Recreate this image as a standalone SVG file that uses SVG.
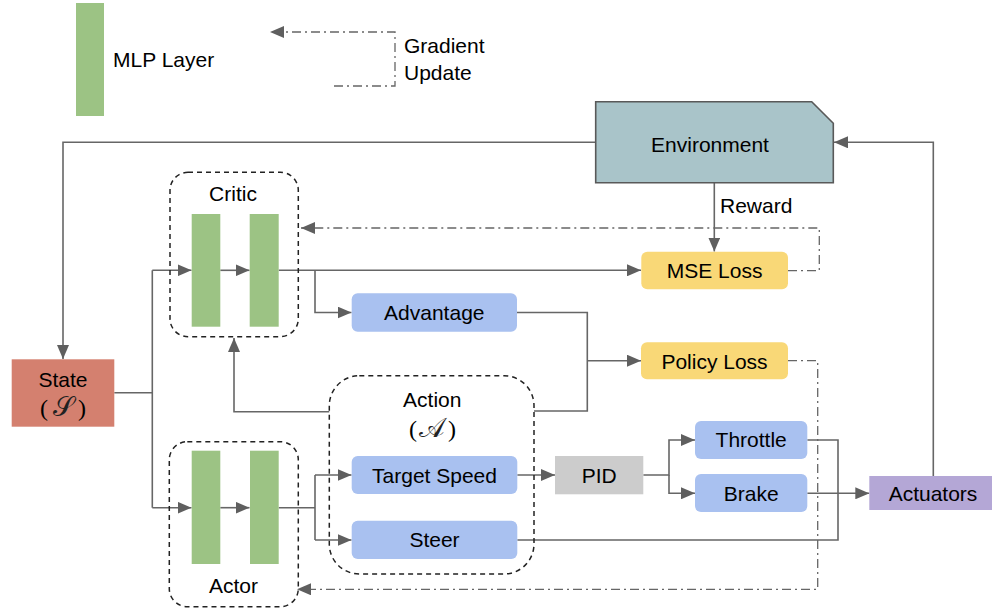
<svg xmlns="http://www.w3.org/2000/svg" width="992" height="610" viewBox="0 0 992 610">
<style>
text{font-family:"Liberation Sans",Arial,sans-serif;font-size:21px;fill:#000}
.c{text-anchor:middle}
.mlp{fill:#9cc384}
.blue{fill:#a9c1f0}
.yel{fill:#f9d877}
.ln{fill:none;stroke:#666;stroke-width:1.6}
.dd{fill:none;stroke:#666;stroke-width:1.3;stroke-dasharray:9,4,2,4}
.grp{fill:none;stroke:#222;stroke-width:1.5;stroke-dasharray:5,4}
.par{font-family:"Liberation Serif","DejaVu Serif",serif;font-size:24px}
.math{font-family:"DejaVu Sans","DejaVu Serif",sans-serif;font-size:27px;font-weight:200;fill:#222}
</style>
<defs>
<marker id="ah" markerUnits="userSpaceOnUse" markerWidth="14" markerHeight="12" viewBox="0 0 14 12" refX="14" refY="6" orient="auto">
<path d="M0,0 L14,6 L0,12 z" fill="#5f5f5f"/>
</marker>
</defs>

<g id="legend">
<rect class="mlp" x="76" y="3" width="28" height="113"/>
<text x="113" y="67">MLP Layer</text>
<path class="dd" d="M334,86 H395 V32 H270" marker-end="url(#ah)"/>
<text x="404" y="53">Gradient</text>
<text x="404" y="80">Update</text>
</g>

<g id="connectors">
<path class="ln" d="M596,142.3 H63 V359" marker-end="url(#ah)"/>
<path class="ln" d="M933.3,476 V142.3 H834" marker-end="url(#ah)"/>
<path class="ln" d="M714.3,183 V251.5" marker-end="url(#ah)"/>
<path class="ln" d="M114.3,392.7 H152.3"/>
<path class="ln" d="M152.3,270.3 V507.7"/>
<path class="ln" d="M152.3,270.3 H191.5" marker-end="url(#ah)"/>
<path class="ln" d="M152.3,507.7 H191.5" marker-end="url(#ah)"/>
<path class="ln" d="M220.3,270.3 H249.5" marker-end="url(#ah)"/>
<path class="ln" d="M220.3,507.7 H249.5" marker-end="url(#ah)"/>
<path class="ln" d="M278.7,270.3 H641" marker-end="url(#ah)"/>
<path class="ln" d="M315,270.3 V312.5 H351.5" marker-end="url(#ah)"/>
<path class="ln" d="M517,312.5 H587.3 V411 H534"/>
<path class="ln" d="M587.3,360.7 H641" marker-end="url(#ah)"/>
<path class="ln" d="M329.3,411.7 H234 V338" marker-end="url(#ah)"/>
<path class="ln" d="M278.7,507.7 H315"/>
<path class="ln" d="M315,475 V540"/>
<path class="ln" d="M315,475 H351.5" marker-end="url(#ah)"/>
<path class="ln" d="M315,540 H351.5" marker-end="url(#ah)"/>
<path class="ln" d="M517.3,475 H555" marker-end="url(#ah)"/>
<path class="ln" d="M643.3,475 H669 V440 H695" marker-end="url(#ah)"/>
<path class="ln" d="M669,475 V493.3 H695" marker-end="url(#ah)"/>
<path class="ln" d="M807.3,440 H838 V540 H517.3"/>
<path class="ln" d="M807.3,493.3 H869.3" marker-end="url(#ah)"/>
<path class="dd" d="M788,270.7 H819.3 V228 H301" marker-end="url(#ah)"/>
<path class="dd" d="M788,360.7 H817.7 V589.3 H297" marker-end="url(#ah)"/>
</g>

<g id="environment">
<path d="M595.7,101.7 H811.7 L833.3,123.3 V182.7 H595.7 Z" fill="#a9c4c9" stroke="#595959" stroke-width="1.6"/>
<text class="c" x="710" y="152">Environment</text>
</g>
<text x="720" y="213">Reward</text>

<g id="critic">
<rect class="grp" x="170" y="172.3" width="128.3" height="164.4" rx="18"/>
<text class="c" x="233" y="201">Critic</text>
<rect class="mlp" x="191.7" y="214" width="28.6" height="112.7"/>
<rect class="mlp" x="249.7" y="214" width="29" height="112.7"/>
</g>

<g id="actor">
<rect class="grp" x="169.3" y="441.7" width="129" height="165" rx="18"/>
<rect class="mlp" x="191.7" y="450.7" width="28.6" height="113.3"/>
<rect class="mlp" x="250" y="450.7" width="28.7" height="113.3"/>
<text class="c" x="233.5" y="593">Actor</text>
</g>

<g id="state">
<rect x="11.7" y="359.3" width="102.6" height="67.4" fill="#d4806f"/>
<text class="c" x="63" y="387">State</text>
<text class="c" y="416"><tspan class="par" x="44">(</tspan><tspan class="math" x="63">𝒮</tspan><tspan class="par" x="82">)</tspan></text>
</g>

<g id="mse-loss">
<rect class="yel" x="641.3" y="251.7" width="146.7" height="37.6" rx="6"/>
<text class="c" x="714.6" y="278">MSE Loss</text>
</g>

<g id="advantage">
<rect class="blue" x="351.7" y="293.3" width="165.3" height="38.4" rx="6"/>
<text class="c" x="434.3" y="320">Advantage</text>
</g>

<g id="policy-loss">
<rect class="yel" x="641" y="342.3" width="147" height="37" rx="6"/>
<text class="c" x="714.5" y="368.5">Policy Loss</text>
</g>

<g id="action">
<rect class="grp" x="329.3" y="375.7" width="204.7" height="198.3" rx="30"/>
<text class="c" x="432.3" y="407">Action</text>
<text class="c" y="437"><tspan class="par" x="413">(</tspan><tspan class="math" x="432">𝒜</tspan><tspan class="par" x="452">)</tspan></text>
</g>

<g id="target-speed">
<rect class="blue" x="351.7" y="456" width="165.6" height="38" rx="6"/>
<text class="c" x="434.5" y="482.7">Target Speed</text>
</g>

<g id="steer">
<rect class="blue" x="351.7" y="520.7" width="165.6" height="38.3" rx="6"/>
<text class="c" x="434.5" y="547">Steer</text>
</g>

<g id="pid">
<rect x="555" y="456" width="88.3" height="38.3" fill="#cccccc"/>
<text class="c" x="599.2" y="482.5">PID</text>
</g>

<g id="throttle">
<rect class="blue" x="695" y="421" width="112.3" height="38" rx="6"/>
<text class="c" x="751.2" y="447">Throttle</text>
</g>

<g id="brake">
<rect class="blue" x="695" y="474" width="112.3" height="38" rx="6"/>
<text class="c" x="751.2" y="500.5">Brake</text>
</g>

<g id="actuators">
<rect x="869.3" y="476" width="122.7" height="34" fill="#b4a7d6"/>
<text class="c" x="933" y="500.5">Actuators</text>
</g>
</svg>
